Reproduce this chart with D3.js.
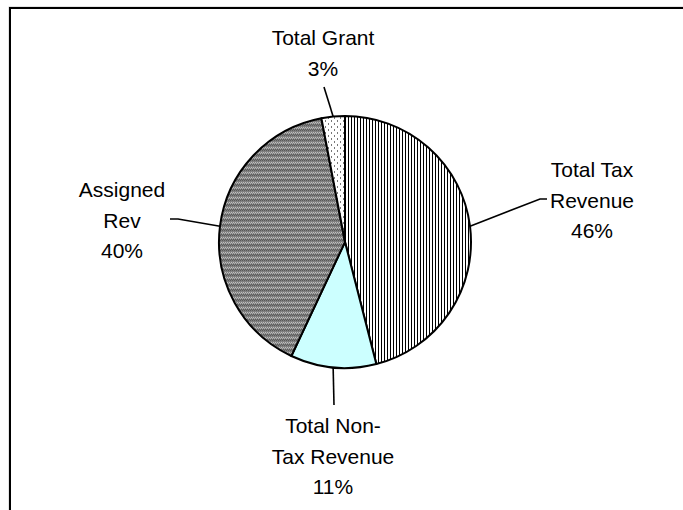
<!DOCTYPE html>
<html>
<head>
<meta charset="utf-8">
<script src="https://cdn.jsdelivr.net/npm/d3@7"></script>
<style>
  body { margin: 0; background: #fff; }
  text { font-family: "Liberation Sans", Arial, sans-serif; font-size: 21px; fill: #000; }
</style>
</head>
<body>
<div id="chart"></div>
<script>
// data, clockwise from 12 o'clock
const categories = ["Total Tax Revenue", "Total Non-Tax Revenue", "Assigned Rev", "Total Grant"];
const shares = [46, 11, 40, 3];
const labelLines = [
  ["Total Tax", "Revenue", "46%"],
  ["Total Non-", "Tax Revenue", "11%"],
  ["Assigned", "Rev", "40%"],
  ["Total Grant", "3%"]
];

const width = 683, height = 510;
const cx = 345, cy = 242, radius = 126;

// where each label sits and where its leader line bends / ends
const labelLayout = [
  { x: 592, y: 177, bend: [540, 199], end: [547, 199] },
  { x: 333, y: 433, bend: null, end: [334, 405] },
  { x: 122, y: 197, bend: [178, 219], end: [170, 219] },
  { x: 323, y: 45, bend: null, end: [324, 87] }
];

const svg = d3.select("#chart").append("svg")
  .attr("width", width)
  .attr("height", height);

const defs = svg.append("defs");

// vertical stripes
const pStripe = defs.append("pattern").attr("id", "stripes")
  .attr("patternUnits", "userSpaceOnUse").attr("width", 3).attr("height", 3);
pStripe.append("rect").attr("width", 3).attr("height", 3).attr("fill", "#fff");
pStripe.append("rect").attr("width", 1).attr("height", 3).attr("fill", "#000");

// dark grey dotted texture
const pGrey = defs.append("pattern").attr("id", "greydots")
  .attr("patternUnits", "userSpaceOnUse").attr("width", 2).attr("height", 5);
pGrey.append("rect").attr("width", 2).attr("height", 5).attr("fill", "#808080");
pGrey.append("rect").attr("x", 0).attr("y", 0).attr("width", 1).attr("height", 1).attr("fill", "#c0c0c0");
pGrey.append("rect").attr("x", 1).attr("y", 1).attr("width", 1).attr("height", 1).attr("fill", "#b0b0b0");
pGrey.append("rect").attr("x", 0).attr("y", 2).attr("width", 1).attr("height", 1).attr("fill", "#5a5a5a");
pGrey.append("rect").attr("x", 1).attr("y", 3).attr("width", 1).attr("height", 1).attr("fill", "#5a5a5a");

// sparse dots on white
const pDots = defs.append("pattern").attr("id", "sparsedots")
  .attr("patternUnits", "userSpaceOnUse").attr("width", 6).attr("height", 6);
pDots.append("rect").attr("width", 6).attr("height", 6).attr("fill", "#fff");
pDots.append("rect").attr("x", 1).attr("y", 1).attr("width", 1).attr("height", 2).attr("fill", "#777");
pDots.append("rect").attr("x", 4).attr("y", 4).attr("width", 1).attr("height", 2).attr("fill", "#777");

const fills = d3.scaleOrdinal()
  .domain(categories)
  .range(["url(#stripes)", "#ccffff", "url(#greydots)", "url(#sparsedots)"]);

// chart frame (runs off right and bottom edges)
svg.append("rect")
  .attr("x", 9).attr("y", 7).attr("width", 720).attr("height", 560)
  .attr("fill", "none").attr("stroke", "#ccc").attr("stroke-width", 1);
svg.append("rect")
  .attr("x", 10).attr("y", 8).attr("width", 720).attr("height", 560)
  .attr("fill", "none").attr("stroke", "#000").attr("stroke-width", 2);

const pie = d3.pie().sort(null).value(d => d);
const arcs = pie(shares);
const arc = d3.arc().innerRadius(0).outerRadius(radius);

const g = svg.append("g").attr("transform", `translate(${cx},${cy})`);

g.selectAll("path")
  .data(arcs)
  .enter()
  .append("path")
  .attr("d", arc)
  .attr("fill", (d, i) => fills(categories[i]))
  .attr("stroke", "#000")
  .attr("stroke-width", 2)
  .attr("stroke-linejoin", "round");

// leader lines start on the rim at each slice's mid angle
arcs.forEach((d, i) => {
  const mid = (d.startAngle + d.endAngle) / 2;
  const sx = cx + radius * Math.sin(mid);
  const sy = cy - radius * Math.cos(mid);
  const lay = labelLayout[i];
  const pts = [[sx, sy]];
  if (lay.bend) pts.push(lay.bend);
  pts.push(lay.end);
  svg.append("path")
    .attr("d", d3.line()(pts))
    .attr("fill", "none")
    .attr("stroke", "#000")
    .attr("stroke-width", 1.6);

  const t = svg.append("text")
    .attr("text-anchor", "middle")
    .attr("x", lay.x)
    .attr("y", lay.y);
  labelLines[i].forEach((line, j) => {
    t.append("tspan")
      .attr("x", lay.x)
      .attr("dy", j === 0 ? 0 : 30.5)
      .text(line);
  });
});
</script>
</body>
</html>
